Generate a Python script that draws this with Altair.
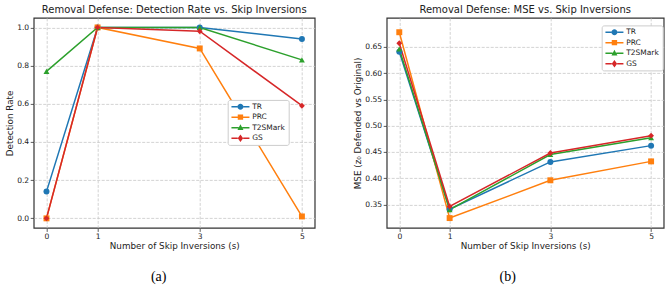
import altair as alt
import pandas as pd

# Series, x positions and the values read for each panel
series = ["TR", "PRC", "T2SMark", "GS"]
colors = ["#1f77b4", "#ff7f0e", "#2ca02c", "#d62728"]
shapes = ["circle", "square", "triangle-up", "diamond"]
marker_sizes = [36, 34, 40, 50]

skips = [0, 1, 3, 5]

detection_tr = [0.14, 1.00, 1.00, 0.94]
detection_prc = [0.00, 1.00, 0.89, 0.01]
detection_t2s = [0.77, 1.00, 1.00, 0.83]
detection_gs = [0.00, 1.00, 0.98, 0.59]

mse_tr = [0.641, 0.341, 0.431, 0.462]
mse_prc = [0.678, 0.324, 0.396, 0.432]
mse_t2s = [0.646, 0.340, 0.445, 0.477]
mse_gs = [0.657, 0.346, 0.448, 0.481]

det_ticks = [0.0, 0.2, 0.4, 0.6, 0.8, 1.0]
mse_ticks = [0.35, 0.40, 0.45, 0.50, 0.55, 0.60, 0.65]

FONT = "DejaVu Sans"
INK = "#222222"

# Legend glyphs: marker with a short line segment through it
def with_stub(marker, inner):
    stub = (f"M-3,-0.25H-{inner}V0.25H-3Z "
            f"M{inner},-0.25H3V0.25H{inner}Z")
    return marker + " " + stub

legend_glyphs = [
    with_stub("M1,0A1,1 0 1,1 -1,0A1,1 0 1,1 1,0Z", 1),
    with_stub("M-0.9,-0.9H0.9V0.9H-0.9Z", 0.9),
    with_stub("M0,-1.1L1,0.75H-1Z", 0.6),
    with_stub("M0,-1.25L0.9,0L0,1.25L-0.9,0Z", 0.9),
]


def long_table(columns):
    rows = []
    for name, vals in zip(series, columns):
        for k, v in zip(skips, vals):
            rows.append({"series": name, "skip": k, "value": v})
    return pd.DataFrame(rows)


def panel(df, y_domain, y_ticks, y_format, y_title, title, width, height,
          legend_x, legend_y, caption, caption_x):
    x = alt.X("skip:Q",
              scale=alt.Scale(domain=[-0.25, 5.25], nice=False, zero=False),
              axis=alt.Axis(values=skips, format="d",
                            title="Number of Skip Inversions (s)",
                            labelPadding=1.5, titlePadding=1.5))
    y = alt.Y("value:Q",
              scale=alt.Scale(domain=y_domain, nice=False, zero=False),
              axis=alt.Axis(values=y_ticks, format=y_format, title=y_title,
                            labelPadding=1.5, titlePadding=2.3))
    color_scale = alt.Scale(domain=series, range=colors)

    lines = alt.Chart(df).mark_line(strokeWidth=1.5).encode(
        x=x, y=y,
        color=alt.Color("series:N", scale=color_scale, legend=None),
    )
    points = alt.Chart(df).mark_point(filled=True, opacity=1).encode(
        x=x, y=y,
        color=alt.Color("series:N", scale=color_scale, legend=None),
        shape=alt.Shape("series:N", scale=alt.Scale(domain=series, range=shapes), legend=None),
        size=alt.Size("series:N", scale=alt.Scale(domain=series, range=marker_sizes), legend=None),
    )
    leg = alt.Legend(
        title=None, orient="none", legendX=legend_x, legendY=legend_y,
        fillColor="white", strokeColor="#cccccc", cornerRadius=2, padding=3,
        labelFont=FONT, labelFontSize=7.5, labelColor=INK,
        symbolSize=36, symbolStrokeWidth=0, symbolOpacity=1,
        symbolOffset=6, labelOffset=8, rowPadding=1.5,
    )
    # key layer: no marks of its own, only the legend (line + marker glyphs)
    key = alt.Chart(df).transform_filter("false").mark_point(filled=True, size=36).encode(
        x=x, y=y,
        color=alt.Color("series:N", scale=color_scale, legend=leg),
        shape=alt.Shape("series:N", scale=alt.Scale(domain=series, range=legend_glyphs), legend=leg),
    )
    cap = alt.Chart(pd.DataFrame({"caption": [caption]})).mark_text(
        font="Liberation Serif", fontSize=14, color="black", baseline="middle"
    ).encode(
        x=alt.value(caption_x), y=alt.value(height + 49), text="caption:N"
    )
    return alt.layer(lines, points, key, cap).resolve_scale(
        color="independent", shape="independent", size="independent"
    ).properties(width=width, height=height, title=title)


def panel_title(text, offset):
    return alt.TitleParams(text, font=FONT, fontSize=10, fontWeight="normal",
                           color=INK, anchor="middle", baseline="alphabetic",
                           offset=offset)


left_df = long_table([detection_tr, detection_prc, detection_t2s, detection_gs])
right_df = long_table([mse_tr, mse_prc, mse_t2s, mse_gs])

left = panel(
    left_df, [-0.05, 1.05], det_ticks, ".1f", "Detection Rate",
    panel_title("Removal Defense: Detection Rate vs. Skip Inversions", -4.7),
    281, 210, 194, 82, "(a)", 125,
)
right = panel(
    right_df, [0.3053, 0.7053], mse_ticks, ".2f", "MSE (z₀ Defended vs Original)",
    panel_title("Removal Defense: MSE vs. Skip Inversions", -4.7),
    277, 210, 215, 7.5, "(b)", 121,
)

chart = alt.hconcat(left, right, spacing=37).resolve_scale(
    color="independent", shape="independent", size="independent"
).resolve_legend(color="independent", shape="independent").properties(
    padding={"left": 4.7, "top": 3.9, "right": 0, "bottom": 0},
    background="white",
).configure_axis(
    labelFont=FONT, labelFontSize=7.6, labelColor=INK,
    titleFont=FONT, titleFontSize=8.8, titleFontWeight="normal", titleColor=INK,
    tickColor="#333333", tickSize=3.5, tickWidth=0.8, domain=False,
    grid=True, gridColor="#c8c8c8", gridDash=[3, 1.5], gridWidth=0.8,
).configure_view(stroke="#333333", strokeWidth=1.2)

chart.save("out.html", embed_options={"renderer": "svg", "actions": False})
